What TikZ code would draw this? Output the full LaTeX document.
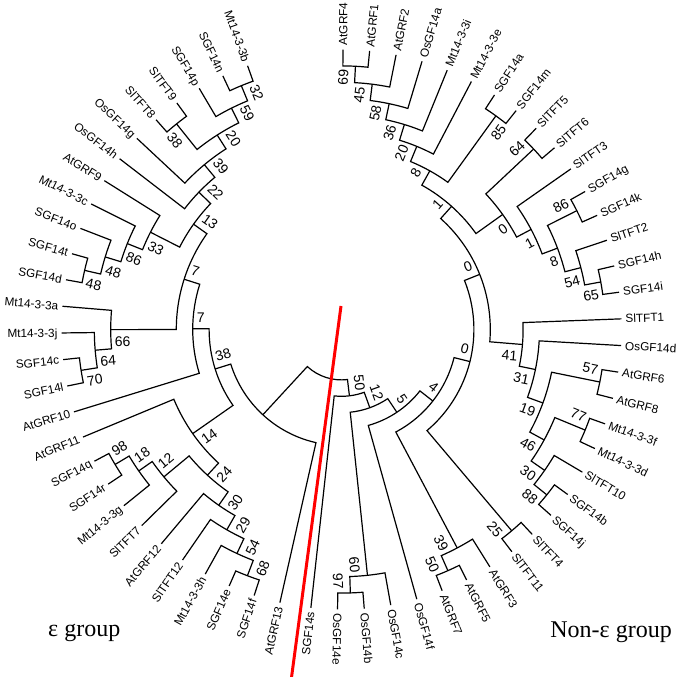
\documentclass[tikz,border=0pt]{standalone}
\usepackage{fontspec}
\setmainfont{Liberation Sans}
\newfontfamily\grpfont{Liberation Serif}
\begin{document}
\begin{tikzpicture}[x=1pt,y=1pt,
  tree/.style={line width=1.2pt, line join=miter},
  leaf/.style={font=\fontsize{11.8}{12}\selectfont, inner sep=0pt, text height=8.45pt, text depth=0pt},
  bs/.style={font=\fontsize{14}{15}\selectfont, inner sep=0pt, text height=10pt, text depth=0pt},
  grp/.style={font=\grpfont\fontsize{24}{28}\selectfont, inner sep=0pt},
  redline/.style={line width=3pt, draw=red}]
\useasboundingbox (0,0) rectangle (680,677);
\newcommand\nd[5]{\draw[tree] (#2:#3pt) -- (#2:#1pt) arc[start angle=#2, end angle=#4, radius=#1pt] -- (#4:#5pt);}
\newcommand\leafR[2]{\node[leaf, rotate=#1, anchor=west] (lf#2) at (#1:284pt) {#2};}
\newcommand\leafL[2]{\node[leaf, rotate=#1-180, anchor=east] (lf#2) at (#1:284pt) {#2};}
\newcommand\bRcw[3]{\path[rotate=#1] ({#2-4},-6.5) node[bs,transform shape,anchor=north east]{#3};}
\newcommand\bRccw[3]{\path[rotate=#1] ({#2-4},6.5) node[bs,transform shape,anchor=south east]{#3};}
\newcommand\bLcw[3]{\path[rotate=#1-180] ({-#2+4},6.5) node[bs,transform shape,anchor=south west]{#3};}
\newcommand\bLccw[3]{\path[rotate=#1-180] ({-#2+4},-6.5) node[bs,transform shape,anchor=north west]{#3};}
\begin{scope}[shift={(341.5,347.5)}]
% ---- non-epsilon branches
\nd{263.6}{-90.81}{280}{-85.34}{280}
\nd{247.2}{-88.075}{263.6}{-79.87}{280}
\nd{263.6}{-68.93}{280}{-63.46}{280}
\nd{247.2}{-66.195}{263.6}{-57.99}{280}
\nd{263.6}{-52.52}{280}{-47.05}{280}
\nd{263.6}{-41.58}{280}{-36.11}{280}
\nd{247.2}{-38.845}{263.6}{-30.64}{280}
\nd{263.6}{-25.17}{280}{-19.70}{280}
\nd{230.8}{-34.74}{247.2}{-22.435}{263.6}
\nd{263.6}{-14.23}{280}{-8.76}{280}
\nd{214.4}{-28.59}{230.8}{-11.495}{263.6}
\nd{198}{-20.04}{214.4}{-3.29}{280}
\nd{181.6}{-11.665}{198}{2.18}{280}
\nd{263.6}{7.65}{280}{13.12}{280}
\nd{247.2}{10.385}{263.6}{18.59}{280}
\nd{263.6}{24.06}{280}{29.53}{280}
\nd{230.8}{14.49}{247.2}{26.795}{263.6}
\nd{214.4}{20.64}{230.8}{35}{280}
\nd{263.6}{40.47}{280}{45.94}{280}
\nd{198}{27.82}{214.4}{43.205}{263.6}
\nd{263.6}{51.41}{280}{56.88}{280}
\nd{263.6}{84.23}{280}{89.7}{280}
\nd{247.2}{78.76}{280}{86.965}{263.6}
\nd{230.8}{73.29}{280}{82.86}{247.2}
\nd{214.4}{67.82}{280}{78.08}{230.8}
\nd{198}{62.35}{280}{72.95}{214.4}
\nd{181.6}{54.145}{263.6}{67.65}{198}
\nd{165.2}{35.51}{198}{60.9}{181.6}
\nd{148.8}{-4.74}{181.6}{48.205}{165.2}
\nd{132.4}{-49.785}{263.6}{21.73}{148.8}
\nd{116}{-62.09}{247.2}{-14.03}{132.4}
\nd{99.6}{-74.4}{280}{-38.06}{116}
\nd{83.2}{-83.97}{247.2}{-56.23}{99.6}
\nd{66.8}{-96.28}{280}{-70.1}{83.2}
\nd{50.4}{227.32}{116}{276.81}{66.8}
% ---- epsilon branches
\nd{263.6}{109.6}{280}{115.07}{280}
\nd{247.2}{112.335}{263.6}{120.54}{280}
\nd{263.6}{126.01}{280}{131.48}{280}
\nd{230.8}{116.44}{247.2}{128.745}{263.6}
\nd{214.4}{122.59}{230.8}{136.95}{280}
\nd{198}{129.77}{214.4}{142.42}{280}
\nd{263.6}{164.3}{280}{169.77}{280}
\nd{247.2}{158.83}{280}{167.035}{263.6}
\nd{230.8}{153.36}{280}{162.93}{247.2}
\nd{214.4}{147.89}{280}{158.145}{230.8}
\nd{181.6}{136.095}{198}{153.02}{214.4}
\nd{263.6}{186.18}{280}{191.65}{280}
\nd{247.2}{180.71}{280}{188.915}{263.6}
\nd{230.8}{175.24}{280}{184.81}{247.2}
\nd{165.2}{144.56}{181.6}{180.03}{230.8}
\nd{148.8}{162.29}{165.2}{197.12}{280}
\nd{263.6}{208.06}{280}{213.53}{280}
\nd{247.2}{210.795}{263.6}{219}{280}
\nd{230.8}{214.9}{247.2}{224.47}{280}
\nd{263.6}{246.35}{280}{251.82}{280}
\nd{247.2}{240.88}{280}{249.085}{263.6}
\nd{230.8}{235.41}{280}{244.98}{247.2}
\nd{214.4}{229.94}{280}{240.2}{230.8}
\nd{198}{219.68}{230.8}{235.07}{214.4}
\nd{181.6}{202.59}{280}{227.375}{198}
\nd{132.4}{179.71}{148.8}{214.98}{181.6}
\nd{116}{197.35}{132.4}{257.29}{280}
% ---- leaf labels
\leafL{263.72}{SGF14s}
\leafR{-90.81}{OsGF14e}
\leafR{-85.34}{OsGF14b}
\leafR{-79.87}{OsGF14c}
\leafR{-74.40}{OsGF14f}
\leafR{-68.93}{AtGRF7}
\leafR{-63.46}{AtGRF5}
\leafR{-57.99}{AtGRF3}
\leafR{-52.52}{SlTFT11}
\leafR{-47.05}{SlTFT4}
\leafR{-41.58}{SGF14j}
\leafR{-36.11}{SGF14b}
\leafR{-30.64}{SlTFT10}
\leafR{-25.17}{Mt14-3-3d}
\leafR{-19.70}{Mt14-3-3f}
\leafR{-14.23}{AtGRF8}
\leafR{-8.76}{AtGRF6}
\leafR{-3.29}{OsGF14d}
\leafR{2.18}{SlTFT1}
\leafR{7.65}{SGF14i}
\leafR{13.12}{SGF14h}
\leafR{18.59}{SlTFT2}
\leafR{24.06}{SGF14k}
\leafR{29.53}{SGF14g}
\leafR{35.00}{SlTFT3}
\leafR{40.47}{SlTFT6}
\leafR{45.94}{SlTFT5}
\leafR{51.41}{SGF14m}
\leafR{56.88}{SGF14a}
\leafR{62.35}{Mt14-3-3e}
\leafR{67.82}{Mt14-3-3i}
\leafR{73.29}{OsGF14a}
\leafR{78.76}{AtGRF2}
\leafR{84.23}{AtGRF1}
\leafR{89.70}{AtGRF4}
\leafL{109.60}{Mt14-3-3b}
\leafL{115.07}{SGF14n}
\leafL{120.54}{SGF14p}
\leafL{126.01}{SlTFT9}
\leafL{131.48}{SlTFT8}
\leafL{136.95}{OsGF14g}
\leafL{142.42}{OsGF14h}
\leafL{147.89}{AtGRF9}
\leafL{153.36}{Mt14-3-3c}
\leafL{158.83}{SGF14o}
\leafL{164.30}{SGF14t}
\leafL{169.77}{SGF14d}
\leafL{175.24}{Mt14-3-3a}
\leafL{180.71}{Mt14-3-3j}
\leafL{186.18}{SGF14c}
\leafL{191.65}{SGF14l}
\leafL{197.12}{AtGRF10}
\leafL{202.59}{AtGRF11}
\leafL{208.06}{SGF14q}
\leafL{213.53}{SGF14r}
\leafL{219.00}{Mt14-3-3g}
\leafL{224.47}{SlTFT7}
\leafL{229.94}{AtGRF12}
\leafL{235.41}{SlTFT12}
\leafL{240.88}{Mt14-3-3h}
\leafL{246.35}{SGF14e}
\leafL{251.82}{SGF14f}
\leafL{257.29}{AtGRF13}
% ---- bootstrap values, non-epsilon
\bRcw{-88.075}{263.6}{97}
\bRcw{-83.97}{247.2}{60}
\bRcw{-66.195}{263.6}{50}
\bRcw{-62.09}{247.2}{39}
\bRcw{-49.785}{263.6}{25}
\bRcw{-38.845}{263.6}{88}
\bRcw{-34.74}{247.2}{30}
\bRccw{-22.435}{263.6}{77}
\bRcw{-28.59}{230.8}{46}
\bRccw{-11.495}{263.6}{57}
\bRcw{-20.04}{214.4}{19}
\bRcw{-11.665}{198}{31}
\bRcw{-4.74}{181.6}{41}
\bRcw{10.385}{263.6}{65}
\bRcw{14.49}{247.2}{54}
\bRccw{26.795}{263.6}{86}
\bRcw{20.64}{230.8}{8}
\bRcw{27.82}{214.4}{1}
\bRccw{43.205}{263.6}{64}
\bRcw{35.51}{198}{0}
\bRcw{54.145}{263.6}{85}
\bRccw{86.965}{263.6}{69}
\bRccw{82.86}{247.2}{45}
\bRccw{78.08}{230.8}{58}
\bRccw{72.95}{214.4}{36}
\bRccw{67.65}{198}{20}
\bRccw{60.90}{181.6}{8}
\bRccw{48.205}{165.2}{1}
\bRccw{21.73}{148.8}{0}
\bRccw{-14.03}{132.4}{0}
\bRccw{-38.06}{116}{4}
\bRccw{-56.23}{99.6}{5}
\bRccw{-70.10}{83.2}{12}
\bRccw{-83.19}{66.8}{50}
% ---- bootstrap values, epsilon
\bLcw{112.335}{263.6}{32}
\bLcw{116.44}{247.2}{59}
\bLccw{128.745}{263.6}{38}
\bLcw{122.59}{230.8}{20}
\bLcw{129.77}{214.4}{39}
\bLcw{136.095}{198}{22}
\bLccw{167.035}{263.6}{48}
\bLccw{162.93}{247.2}{48}
\bLccw{158.145}{230.8}{86}
\bLccw{153.02}{214.4}{33}
\bLcw{144.56}{181.6}{13}
\bLccw{188.915}{263.6}{70}
\bLccw{184.81}{247.2}{64}
\bLccw{180.03}{230.8}{66}
\bLcw{162.29}{165.2}{7}
\bLcw{179.71}{148.8}{7}
\bLcw{197.35}{132.4}{38}
\bLccw{214.98}{181.6}{14}
\bLcw{210.795}{263.6}{98}
\bLcw{214.90}{247.2}{18}
\bLcw{219.68}{230.8}{12}
\bLccw{249.085}{263.6}{68}
\bLccw{244.98}{247.2}{54}
\bLccw{240.20}{230.8}{29}
\bLccw{235.07}{214.4}{30}
\bLccw{227.375}{198}{24}
\end{scope}
\coordinate (redtop) at (341,371);
\coordinate (redbot) at (291.3,-2);
\draw[redline] (redtop) -- (redbot);
\node[grp, anchor=base west] (epsgrp) at (48,40) {ε group};
\node[grp, anchor=base east] (nonepsgrp) at (672,39) {Non-ε group};
\end{tikzpicture}
\end{document}
